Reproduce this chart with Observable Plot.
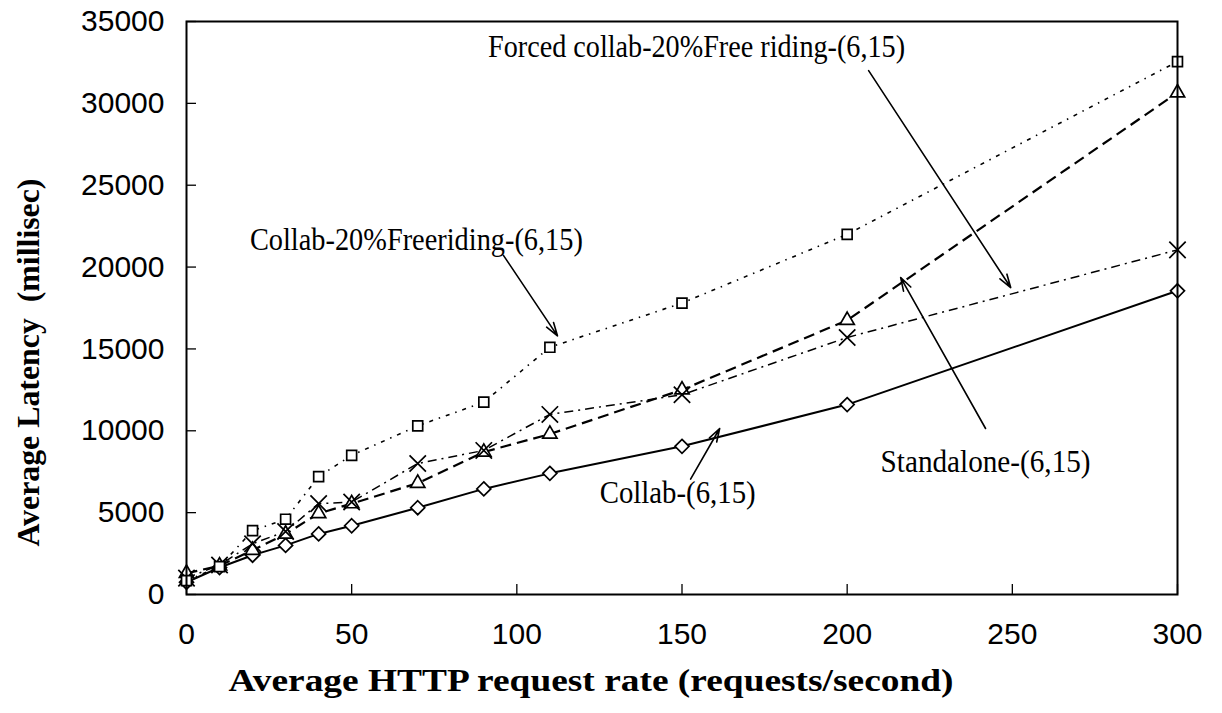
<!DOCTYPE html>
<html>
<head>
<meta charset="utf-8">
<script src="https://cdn.jsdelivr.net/npm/d3@7"></script>
<script src="https://cdn.jsdelivr.net/npm/@observablehq/plot@0.6"></script>
<style>
  html, body { margin: 0; padding: 0; background: #fff; }
  #chart svg { display: block; }
</style>
</head>
<body>
<div id="chart"></div>
<script>
// ---- data ----
const rates = [0, 10, 20, 30, 40, 50, 70, 90, 110, 150, 200, 300];
const collab = [750, 1650, 2400, 3000, 3700, 4200, 5300, 6450, 7400, 9050, 11600, 18550];
const standalone = [1300, 1750, 2700, 3700, 4950, 5550, 6800, 8700, 9800, 12500, 16750, 30650];
const forcedCollabFree = [1000, 1800, 3100, 3850, 5550, 5650, 8000, 8800, 11000, 12200, 15700, 21050];
const collabFree = [850, 1700, 3900, 4600, 7200, 8500, 10300, 11750, 15100, 17800, 22000, 32550];

const xTicks = [0, 50, 100, 150, 200, 250, 300];
const yTicks = [0, 5000, 10000, 15000, 20000, 25000, 30000, 35000];

const xTitle = "Average HTTP request rate (requests/second)";
const yTitle = "Average Latency  (millisec)";

// annotation labels (data coordinates) and leader arrows
const labelText = ["Forced collab-20%Free riding-(6,15)", "Collab-20%Freeriding-(6,15)", "Collab-(6,15)", "Standalone-(6,15)"];
const labelX = [154.4, 69.6, 148.7, 241.9];
const labelY = [33410, 21620, 6170, 8060];
const arrowX1 = [206.5, 96, 152.6, 241.9];
const arrowY1 = [32000, 20700, 7050, 10140];
const arrowX2 = [249.5, 112.3, 161.4, 216.2];
const arrowY2 = [18750, 15800, 10140, 19360];

// ---- build tables ----
const series = [
  {name: "Collab-(6,15)", values: collab, symbol: "diamond2", dash: null, width: 2, r: 6.3},
  {name: "Standalone-(6,15)", values: standalone, symbol: "triangle2", dash: "11,6", width: 2.2, r: 6.8},
  {name: "Forced collab-20%Free riding-(6,15)", values: forcedCollabFree, symbol: "times", dash: "9,5,2,5", width: 1.5, r: 7.5},
  {name: "Collab-20%Freeriding-(6,15)", values: collabFree, symbol: "square2", dash: "4,6,1.5,6", width: 1.6, r: 6.3}
];
const rows = s => rates.map((x, i) => ({x, y: s.values[i]}));
const labels = labelText.map((t, i) => ({t, x: labelX[i], y: labelY[i]}));
const arrows = arrowX1.map((x1, i) => ({x1, y1: arrowY1[i], x2: arrowX2[i], y2: arrowY2[i]}));

const lineMarks = series.map(s => Plot.line(rows(s), {
  x: "x", y: "y", stroke: "black", strokeWidth: s.width,
  strokeDasharray: s.dash, strokeLinecap: "butt"
}));
const dotMarks = series.map(s => Plot.dot(rows(s), {
  x: "x", y: "y", symbol: () => s.symbol, r: s.r,
  stroke: "black", strokeWidth: 1.7, fill: "white"
}));

const serif = "'Liberation Serif', 'Times New Roman', serif";

const plot = Plot.plot({
  width: 1222,
  height: 713,
  marginLeft: 186,
  marginRight: 45,
  marginTop: 21,
  marginBottom: 119,
  x: {domain: [0, 300]},
  y: {domain: [0, 35000]},
  symbol: {type: "identity"},
  style: {fontFamily: "'Liberation Sans', Arial, sans-serif", fontSize: "30px", color: "black", background: "white", overflow: "visible"},
  marks: [
    ...lineMarks,
    ...dotMarks,
    Plot.frame({stroke: "black", strokeWidth: 2}),
    Plot.axisX(xTicks, {tickSize: 0, tickPadding: 28, label: null, fontSize: 30}),
    Plot.axisX(xTicks, {tickSize: 10, dy: -10, tickFormat: () => "", label: null, strokeWidth: 1.3}),
    Plot.axisY(yTicks, {tickSize: 0, tickPadding: 22, label: null, fontSize: 30, tickFormat: d => String(d)}),
    Plot.axisY(yTicks, {tickSize: 10, dx: 10, tickFormat: () => "", label: null, strokeWidth: 1.3}),
    Plot.arrow(arrows, {x1: "x1", y1: "y1", x2: "x2", y2: "y2", stroke: "black", strokeWidth: 1.6, headLength: 13, headAngle: 35}),
    Plot.text(labels, {x: "x", y: "y", text: "t", fontFamily: serif, fontSize: 31, fill: "black", textAnchor: "middle"}),
    Plot.text([xTitle], {frameAnchor: "bottom", dx: -91, dy: 96, fontFamily: serif, fontWeight: "bold", fontSize: 31, fill: "black"}),
    Plot.text([yTitle], {x: () => -47.8, y: () => 14170, rotate: -90, fontFamily: serif, fontWeight: "bold", fontSize: 31, fill: "black", textAnchor: "middle"})
  ]
});

document.getElementById("chart").appendChild(plot);

// fit text widths to the reference's condensed lettering
const textLengths = {
  "Forced collab-20%Free riding-(6,15)": 417,
  "Collab-20%Freeriding-(6,15)": 333,
  "Collab-(6,15)": 156,
  "Standalone-(6,15)": 210,
  "Average HTTP request rate (requests/second)": 725,
  "Average Latency (millisec)": 368
};
d3.select(plot).selectAll("text").each(function() {
  const t = this.textContent.replace(/\s+/g, " ").trim();
  if (textLengths[t]) {
    this.setAttribute("textLength", textLengths[t]);
    this.setAttribute("lengthAdjust", "spacingAndGlyphs");
    this.style.whiteSpace = "pre";
  }
});
</script>
</body>
</html>
